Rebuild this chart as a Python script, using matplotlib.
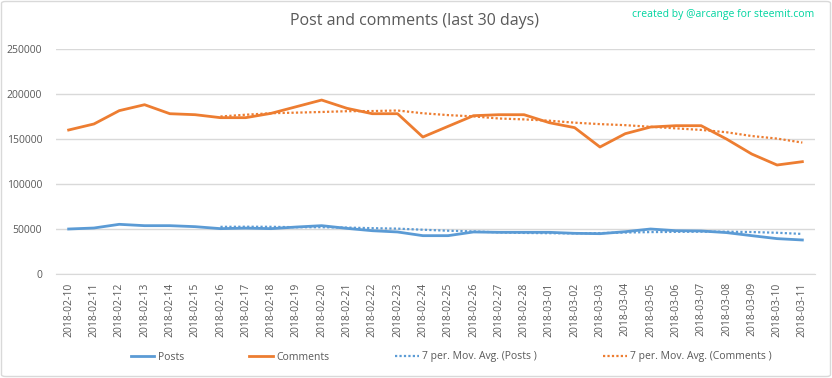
import matplotlib
matplotlib.use("Agg")
import matplotlib.pyplot as plt
import pandas as pd
from matplotlib.patches import FancyBboxPatch

dates = ["2018-02-10", "2018-02-11", "2018-02-12", "2018-02-13", "2018-02-14", "2018-02-15",
         "2018-02-16", "2018-02-17", "2018-02-18", "2018-02-19", "2018-02-20", "2018-02-21",
         "2018-02-22", "2018-02-23", "2018-02-24", "2018-02-25", "2018-02-26", "2018-02-27",
         "2018-02-28", "2018-03-01", "2018-03-02", "2018-03-03", "2018-03-04", "2018-03-05",
         "2018-03-06", "2018-03-07", "2018-03-08", "2018-03-09", "2018-03-10", "2018-03-11"]

posts = [50000, 51100, 55200, 53700, 53700, 52600, 50400, 51000, 50400, 52200,
         53700, 50700, 48100, 46700, 42600, 42600, 46700, 46300, 46300, 46300,
         45200, 44800, 47000, 50000, 48100, 47800, 46000, 42600, 39300, 37800]

comments = [160000, 166700, 181500, 188100, 178100, 177000, 173700, 173700, 178500, 185900,
            193300, 184100, 178100, 178100, 152200, 164100, 175900, 177000, 177000, 168100,
            162600, 141100, 155900, 163300, 164800, 164800, 150000, 133300, 121100, 124800]

yticks = [0, 50000, 100000, 150000, 200000, 250000]

posts_ma = pd.Series(posts).rolling(7).mean()
comments_ma = pd.Series(comments).rolling(7).mean()

BLUE = "#5B9BD5"
ORANGE = "#ED7D31"
GRID = "#D9D9D9"
TXT = "#595959"
FONT = ["Open Sans", "DejaVu Sans"]
plt.rcParams["font.family"] = FONT

fig = plt.figure(figsize=(8.32, 3.78), dpi=100)
W, H = 832, 378
ax = fig.add_axes([56 / W, 1 - 274 / H, (815 - 56) / W, (274 - 49) / H])

x = list(range(len(dates)))
ax.plot(x, posts, color=BLUE, lw=2.0, label="Posts", solid_joinstyle="round")
ax.plot(x, comments, color=ORANGE, lw=2.0, label="Comments", solid_joinstyle="round")
ax.plot(x, posts_ma, color=BLUE, lw=1.6, ls=(0, (1, 1)), label="7 per. Mov. Avg. (Posts )")
ax.plot(x, comments_ma, color=ORANGE, lw=1.6, ls=(0, (1, 1)), label="7 per. Mov. Avg. (Comments )")

ax.set_xlim(-0.5, len(dates) - 0.5)
ax.set_ylim(0, 250000)
ax.set_yticks(yticks)
ax.set_yticklabels([str(v) for v in yticks])
ax.set_xticks(x)
ax.set_xticklabels(dates, rotation=90)
ax.tick_params(axis="both", length=0, colors=TXT, labelsize=7.5)
ax.tick_params(axis="y", pad=10)
ax.tick_params(axis="x", pad=6)
ax.grid(axis="y", color=GRID, lw=1)
ax.set_axisbelow(True)
for s in ["top", "right", "left"]:
    ax.spines[s].set_visible(False)
ax.spines["bottom"].set_color(GRID)

fig.text(415 / W, 1 - 21 / H, "Post and comments (last 30 days)", ha="center", va="center",
         fontsize=11.5, color=TXT)
fig.text(814 / W, 1 - 15 / H, "created by @arcange for steemit.com", ha="right", va="center",
         fontsize=7.5, color="#00D4A0")

leg = fig.legend(loc="center", bbox_to_anchor=(451 / W, 1 - 357 / H), ncol=4, frameon=False,
                 fontsize=7.5, handlelength=2.3, handletextpad=0.3, columnspacing=6.3)
for t in leg.get_texts():
    t.set_color(TXT)

border = FancyBboxPatch((1.5 / W, 1.5 / H), 1 - 3 / W, 1 - 3 / H, boxstyle="round,pad=0,rounding_size=0.005",
                        transform=fig.transFigure, fill=False, edgecolor=GRID, lw=1)
fig.patches.append(border)

fig.savefig("out.png", dpi=100, facecolor="white")
